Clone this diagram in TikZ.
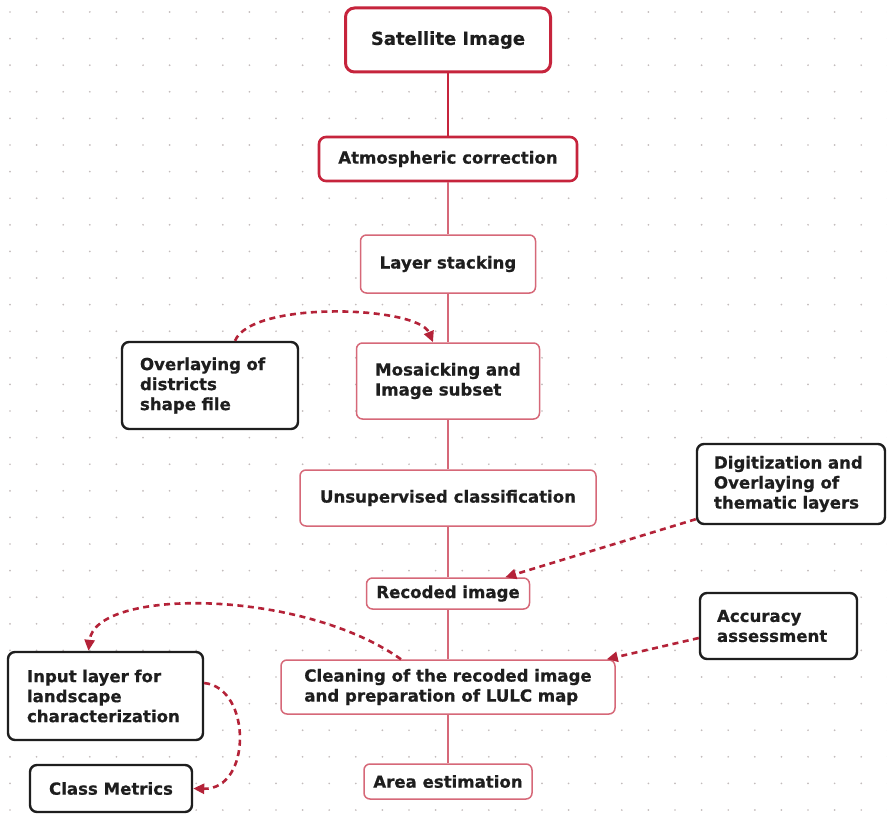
\documentclass[tikz,border=0pt]{standalone}
\usepackage{fontspec}
\setmainfont{DejaVu Sans}[BoldFont={DejaVu Sans Bold}, BoldFeatures={FakeBold=0.6}]
\usetikzlibrary{arrows.meta,calc}
\definecolor{mainred}{RGB}{198,36,60}
\definecolor{lightred}{RGB}{214,104,120}
\definecolor{dashred}{RGB}{180,34,56}
\definecolor{txt}{RGB}{30,30,30}
\definecolor{boxblack}{RGB}{30,30,30}
\definecolor{dotc}{RGB}{195,188,188}
\begin{document}
\begin{tikzpicture}[x=1pt,y=-1pt,
  every node/.style={font=\bfseries\fontsize{16.6}{20}\selectfont, text=txt, inner sep=0pt},
  stepbox/.style={draw=lightred, line width=1.5pt, rounded corners=6pt, fill=white},
  strongbox/.style={draw=mainred, line width=2.6pt, rounded corners=7pt, fill=white},
  sidebox/.style={draw=boxblack, line width=2.4pt, rounded corners=7pt, fill=white, align=left},
  flow/.style={draw=lightred, line width=1.5pt},
  flowstrong/.style={draw=mainred, line width=2pt},
  dasharrow/.style={draw=dashred, line width=2.6pt, dash pattern=on 6pt off 4.5pt,
     -{Triangle[length=11pt,width=10pt]}}
]
\useasboundingbox (0,0) rectangle (887,816);
\fill[white] (0,0) rectangle (887,816);
\foreach \i in {0,...,33}{\foreach \j in {0,...,30}{
  \fill[dotc] (10+26.6*\i, 12+26.6*\j) circle (0.95pt);}}

% main column
\node[strongbox, line width=3pt, rounded corners=9pt, minimum width=205, minimum height=64,
  font=\bfseries\fontsize{18}{22}\selectfont] (sat) at (448,40) {Satellite Image};
\node[strongbox, minimum width=258, minimum height=44] (atm) at (448,159) {Atmospheric correction};
\node[stepbox, minimum width=175, minimum height=58] (lay) at (448,264) {Layer stacking};
\node[stepbox, minimum width=183, minimum height=76, align=left] (mos) at (448,381) {Mosaicking and\\Image subset};
\node[stepbox, minimum width=296, minimum height=56] (uns) at (448,498) {Unsupervised classification};
\node[stepbox, minimum width=163, minimum height=31] (rec) at (448,593.5) {Recoded image};
\node[stepbox, minimum width=334, minimum height=54, align=left] (cle) at (448,687) {Cleaning of the recoded image\\and preparation of LULC map};
\node[stepbox, minimum width=168, minimum height=35] (are) at (448,781.5) {Area estimation};

% side boxes
\node[sidebox, minimum width=176, minimum height=87, text width=140] (ovl) at (210,385.5) {Overlaying of\\districts\\shape file};
\node[sidebox, minimum width=188, minimum height=80, text width=154] (dig) at (791,484) {Digitization and\\Overlaying of\\thematic layers};
\node[sidebox, minimum width=157, minimum height=66, text width=123] (acc) at (778.5,626) {Accuracy\\assessment};
\node[sidebox, minimum width=195, minimum height=88, text width=157] (inp) at (105.5,696) {Input layer for\\landscape\\characterization};
\node[sidebox, minimum width=162, minimum height=47, align=center] (cls) at (111,788.5) {Class Metrics};

% connectors of the main column
\draw[flowstrong] (sat.south) -- (atm.north);
\draw[flow] (atm.south) -- (lay.north);
\draw[flow] (lay.south) -- (mos.north);
\draw[flow] (mos.south) -- (uns.north);
\draw[flow] (uns.south) -- (rec.north);
\draw[flow] (rec.south) -- (cle.north);
\draw[flow] (cle.south) -- (are.north);

% dashed arrows
\draw[dasharrow] ($(ovl.north)+(25,0)$) .. controls (252,300) and (418,306) .. ($(mos.north)+(-15,0)$);
\draw[dasharrow] ($(dig.south west)+(0,-6)$) -- ($(rec.north east)+(-25,0)$);
\draw[dasharrow] ($(acc.west)+(0,12)$) -- ($(cle.north east)+(-9,0)$);
\draw[dasharrow] ($(cle.north)+(-47,0)$) .. controls (300,588) and (95,588) .. ($(inp.north)+(-17,0)$);
\draw[dasharrow] ($(inp.east)+(0,-13)$) .. controls (252,688) and (252,790) .. (cls.east);
\end{tikzpicture}
\end{document}
